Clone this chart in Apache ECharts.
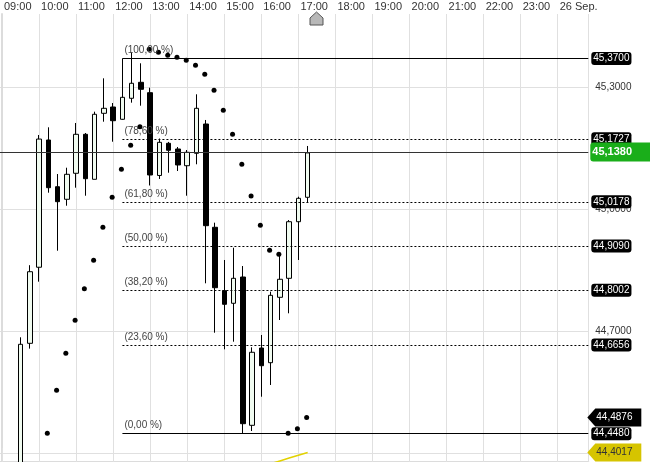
<!DOCTYPE html>
<html><head><meta charset="utf-8">
<script src="https://cdn.jsdelivr.net/npm/echarts@6/dist/echarts.min.js"></script>
<style>html,body{margin:0;padding:0;background:#fff}#c{width:650px;height:462px}</style>
</head><body><div id="c"></div>
<script>
const times = ['09:30','09:45','10:00','10:15','10:30','10:45','11:00','11:15','11:30','11:45','12:00','12:15','12:30','12:45','13:00','13:15','13:30','13:45','14:00','14:15','14:30','14:45','15:00','15:15','15:30','15:45','16:00','16:15','16:30','16:45','17:00','17:15'];
const opens  = [44.300,44.670,44.857,45.1697,45.0549,45.024,45.0879,45.1837,45.0731,45.2353,45.2508,45.2206,45.2722,45.3115,45.286,45.0825,45.1616,45.1476,45.1065,45.137,45.209,44.9552,44.7993,44.7684,44.833,44.4685,44.6585,44.6224,44.7831,44.8298,44.9689,45.0289];
const closes = [44.6676,44.846,45.172,45.0525,45.0181,45.0854,45.1837,45.0746,45.2329,45.2476,45.2171,45.2746,45.3091,45.2943,45.0837,45.164,45.1444,45.1083,45.1395,45.2476,44.9591,44.8067,44.7659,44.8298,44.4725,44.648,44.615,44.788,44.8274,44.9689,45.0264,45.138];
const lows   = [44.280,44.657,44.8215,45.0402,44.8976,45.0082,45.0525,45.0328,45.0731,45.2147,45.1655,45.2195,45.2614,45.254,45.0579,45.0739,45.0893,45.0935,45.0328,45.110,44.8175,44.6961,44.6553,44.674,44.448,44.4545,44.5388,44.5676,44.7273,44.7438,44.8748,45.0166];
const highs  = [44.6848,44.862,45.182,45.2009,45.0861,45.1016,45.2115,45.1869,45.2393,45.3213,45.2606,45.370,45.3852,45.3582,45.2982,45.1734,45.165,45.1525,45.1451,45.282,45.2189,44.9665,44.8748,44.905,44.860,44.6602,44.6905,44.7969,44.8913,44.973,45.0304,45.155];
const sar    = [null,null,null,44.4489,44.5546,44.6455,44.7266,44.8043,44.8741,44.9552,45.0289,45.0977,45.1567,45.2024,45.3926,45.3852,45.3779,45.3729,45.3656,45.3533,45.3312,45.2919,45.2427,45.1837,45.110,45.0321,44.9601,44.8986,44.8888,44.4489,44.4602,44.4876];
const yellowTimes  = ['16:15','16:30','16:45','17:00','17:15'];
const yellowValues = [44.374,44.381,44.388,44.395,44.4017];
const fibLabels = ['(100,00 %)','(78,60 %)','(61,80 %)','(50,00 %)','(38,20 %)','(23,60 %)','(0,00 %)'];
const fibValues = [45.3700,45.1727,45.0178,44.9090,44.8002,44.6656,44.4480];
const fibStart = '12:15';
const lastPrice = 45.1380;
const sarLast = 44.4876;
const yellowLast = 44.4017;
const hourLabels = ['09:00','10:00','11:00','12:00','13:00','14:00','15:00','16:00','17:00','18:00','19:00','20:00','21:00','22:00','23:00','26 Sep.'];

const FONT = '"Liberation Sans", Arial, sans-serif';
const toMin = s => { const p = s.split(':').map(Number); return (p[0]-9)*60 + p[1]; };
const fmt = v => v.toFixed(4).replace('.', ',');
const X_MIN = -60, X_MAX = 949.5;
const GRID_LEFT = -35.05, GRID_W = 623.35;

const candleData = times.map((t,i) => [toMin(t), opens[i], closes[i], lows[i], highs[i]]);
const sarData = times.map((t,i) => [toMin(t), sar[i]]).filter(d => d[1] != null);
const yellowData = yellowTimes.map((t,i) => [toMin(t), yellowValues[i]]);

const fibMarks = [];
fibValues.forEach((v,i) => {
  const solid = (i === 0 || i === fibValues.length-1);
  fibMarks.push([
    {coord:[toMin(fibStart), v], lineStyle:{color:'#000', width:1, type: solid ? 'solid' : [2,2]},
     label:{show:true, position:'insideStartTop', distance:[2,3], formatter: fibLabels[i], color:'#444', fontSize:10, fontFamily:FONT}},
    {coord:[X_MAX, v]}
  ]);
  fibMarks.push([
    {coord:[toMin(fibStart), v], lineStyle:{color:'rgba(0,0,0,0)', width:1},
     label:{show:true, position:'end', distance:3, formatter: fmt(v), color:'#fff', backgroundColor:'#000', borderRadius:3, padding:[2,2,1,2], fontSize:10, fontFamily:FONT}},
    {coord:[X_MAX, v]}
  ]);
});
fibMarks.push({yAxis:lastPrice, lineStyle:{color:'#333', width:1, type:'solid'},
  label:{show:true, position:'end', distance:2, formatter: fmt(lastPrice), color:'#fff', fontWeight:'bold', backgroundColor:'#1aae1a', borderRadius:[3,0,0,3], padding:[4,20,4,2], fontSize:11, fontFamily:FONT}});

const chart = echarts.init(document.getElementById('c'), null, {renderer:'canvas'});
chart.setOption({
  animation:false,
  backgroundColor:'#fff',
  grid:[
    {left:GRID_LEFT, width:GRID_W, top:14, bottom:0, containLabel:false, outerBoundsMode:'none'},
    {left:GRID_LEFT, width:GRID_W, top:-35.09, height:610.35, containLabel:false, outerBoundsMode:'none'}
  ],
  xAxis:[
    {gridIndex:0, type:'value', position:'top', min:X_MIN, max:X_MAX, interval:60,
     axisLine:{show:true, lineStyle:{color:'#dcdcdc', width:2}},
     axisTick:{show:true, length:14, lineStyle:{color:'#e0e0e0', width:1}},
     axisLabel:{show:true, align:'left', margin:2, padding:[0,0,0,2], fontSize:11, color:'#333', fontFamily:FONT,
       formatter: v => { const k = v/60; return (Number.isInteger(k) && k>=0 && k<hourLabels.length) ? hourLabels[k] : ''; }},
     splitLine:{show:true, lineStyle:{color:'#e0e0e0', width:1}}},
    {gridIndex:1, type:'value', min:X_MIN, max:X_MAX, interval:60, show:false, splitLine:{show:false}}
  ],
  yAxis:[
    {gridIndex:0, type:'value', position:'right', min:0, max:1,
     axisLine:{show:true, lineStyle:{color:'#dcdcdc', width:2}}, axisTick:{show:false}, axisLabel:{show:false}, splitLine:{show:false}},
    {gridIndex:1, type:'value', position:'right', min:44.1, max:45.6, interval:0.3,
     axisLine:{show:false}, axisTick:{show:false},
     axisLabel:{show:true, margin:7, fontSize:10, color:'#333', fontFamily:FONT, formatter: v => fmt(v)},
     splitLine:{show:true, lineStyle:{color:'#e0e0e0', width:1}}}
  ],
  series:[
    {type:'candlestick', xAxisIndex:1, yAxisIndex:1, data:candleData, encode:{x:0, y:[1,2,3,4]},
     barWidth:5,
     itemStyle:{color:'#f0fbf0', color0:'#000', borderColor:'#000', borderColor0:'#000', borderWidth:1},
     emphasis:{disabled:true},
     markLine:{silent:true, symbol:['none','none'], animation:false, emphasis:{disabled:true}, data:fibMarks}
    },
    {type:'scatter', xAxisIndex:1, yAxisIndex:1, data:sarData, symbol:'circle', symbolSize:5, symbolOffset:[-1,0],
     itemStyle:{color:'#000', opacity:1}, emphasis:{disabled:true}, z:4},
    {type:'line', xAxisIndex:1, yAxisIndex:1, data:yellowData, showSymbol:false, symbol:'none',
     lineStyle:{color:'#e2d200', width:1.5}, emphasis:{disabled:true}, z:3}
  ]
});

const ax = chart.convertToPixel({xAxisIndex:1}, X_MAX);
function arrowBox(val, fill, textColor){
  const y = chart.convertToPixel({yAxisIndex:1}, val);
  const h = 9;
  return [
    {type:'polygon', z:100, zlevel:1, shape:{points:[[ax-1,y],[ax+7,y-h],[ax+53,y-h],[ax+53,y+h],[ax+7,y+h]]}, style:{fill:fill}},
    {type:'text', z:101, zlevel:1, x:ax+8, y:y, style:{text:fmt(val), fill:textColor, fontSize:10, fontFamily:FONT, verticalAlign:'middle', align:'left'}}
  ];
}
chart.setOption({graphic:[].concat(
  arrowBox(sarLast, '#000', '#fff'),
  arrowBox(yellowLast, '#d6c400', '#333'),
  [{type:'polygon', z:100, zlevel:1, shape:{points:[[310,25],[310,18],[316.5,12],[323,18],[323,25]]}, style:{fill:'#b8b8b8', stroke:'#555', lineWidth:1}}]
)});
</script></body></html>
